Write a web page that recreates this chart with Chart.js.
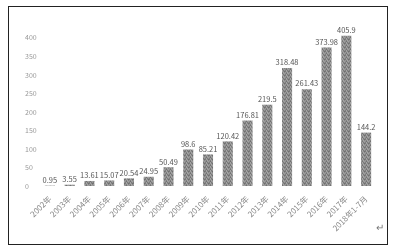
<!DOCTYPE html>
<html>
<head>
<meta charset="utf-8">
<script src="https://cdn.jsdelivr.net/npm/chart.js@4/dist/chart.umd.min.js"></script>
<style>
  html, body { margin: 0; padding: 0; background: #fff; }
  #box {
    position: absolute; left: 8px; top: 6px;
    width: 378px; height: 237px;
    border: 1px solid #222;
  }
  #ret {
    position: absolute; left: 376px; top: 219px;
    font: 10px "Noto Sans CJK SC", sans-serif; color: #777;
  }
</style>
</head>
<body>
<div id="box"><canvas id="c" width="378" height="237"></canvas></div>
<div id="ret">↵</div>
<script>
"use strict";

// 年份 → 数值
const YEARS = [
  "2002年", "2003年", "2004年", "2005年", "2006年", "2007年", "2008年",
  "2009年", "2010年", "2011年", "2012年", "2013年", "2014年", "2015年",
  "2016年", "2017年", "2018年1-7月",
];
const VALUES = [
  0.95, 3.55, 13.61, 15.07, 20.54, 24.95, 50.49, 98.6, 85.21, 120.42,
  176.81, 219.5, 318.48, 261.43, 373.98, 405.9, 144.2,
];
const Y_TICKS = [0, 50, 100, 150, 200, 250, 300, 350, 400];

const FONT = '"Noto Sans CJK SC", "Noto Sans", sans-serif';

// 灰色颗粒纹理（固定图案）
function grainPattern() {
  const p = document.createElement("canvas");
  p.width = 4;
  p.height = 4;
  const g = p.getContext("2d");
  const shades = [
    "#7a7a7a", "#a2a2a2", "#8c8c8c", "#6f6f6f",
    "#9a9a9a", "#808080", "#a8a8a8", "#858585",
    "#8f8f8f", "#727272", "#989898", "#a0a0a0",
    "#7c7c7c", "#a5a5a5", "#787878", "#939393",
  ];
  shades.forEach((s, i) => {
    g.fillStyle = s;
    g.fillRect(i % 4, Math.floor(i / 4), 1, 1);
  });
  return g.createPattern(p, "repeat");
}

// 柱顶数值
const valueLabels = {
  id: "valueLabels",
  afterDatasetsDraw(chart) {
    const ctx = chart.ctx;
    const meta = chart.getDatasetMeta(0);
    ctx.save();
    ctx.font = `7.5px ${FONT}`;
    ctx.fillStyle = "#555";
    ctx.textAlign = "center";
    ctx.textBaseline = "middle";
    meta.data.forEach((bar, i) => {
      ctx.fillText(String(VALUES[i]), bar.x, bar.y - 5.5);
    });
    ctx.restore();
  },
};

const ctx = document.getElementById("c").getContext("2d");
new Chart(ctx, {
  type: "bar",
  data: {
    labels: YEARS,
    datasets: [
      {
        data: VALUES,
        backgroundColor: grainPattern(),
        borderWidth: 0,
        barPercentage: 0.51,
        categoryPercentage: 1,
      },
    ],
  },
  options: {
    responsive: false,
    animation: false,
    layout: { padding: { left: 16, right: 11, top: 16, bottom: 0 } },
    plugins: { legend: { display: false }, tooltip: { enabled: false } },
    scales: {
      x: {
        grid: { display: false },
        border: { display: false },
        ticks: {
          autoSkip: false,
          minRotation: 45,
          maxRotation: 45,
          padding: 0,
          color: "#888",
          font: { family: FONT, size: 8 },
        },
        afterFit: (s) => { s.height = 58; },
      },
      y: {
        min: 0,
        max: 440,
        grid: { display: false },
        border: { display: false },
        afterBuildTicks: (s) => {
          s.ticks = Y_TICKS.map((v) => ({ value: v }));
        },
        ticks: {
          crossAlign: "far",
          color: "#999",
          font: { family: FONT, size: 7 },
        },
        afterFit: (s) => { s.width = 15; },
      },
    },
  },
  plugins: [valueLabels],
});
</script>
</body>
</html>
